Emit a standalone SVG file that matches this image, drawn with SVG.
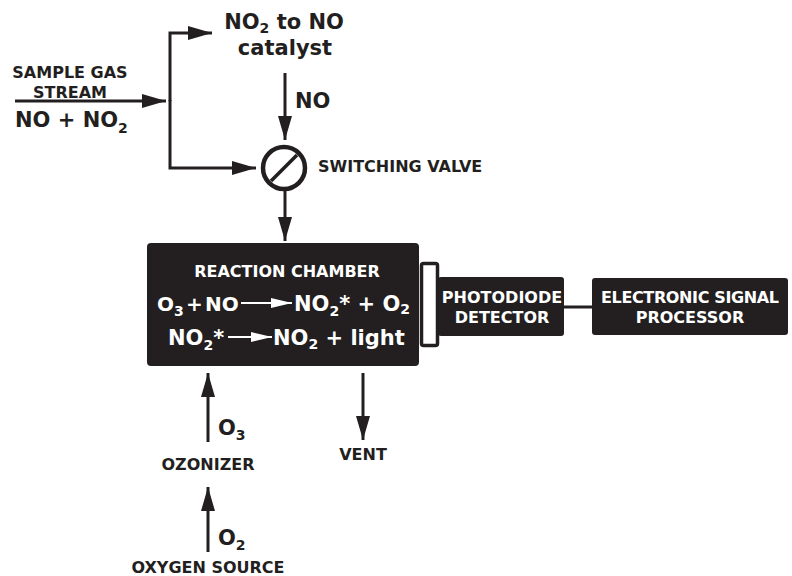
<svg xmlns="http://www.w3.org/2000/svg" width="792" height="576" viewBox="0 0 792 576">
<style>
text{font-family:"DejaVu Sans","Liberation Sans",sans-serif;font-weight:bold;fill:#231f20}
.sm{font-size:16px}
.lg{font-size:21px}
.w{fill:#fff}
.ln{stroke:#231f20;stroke-width:3;fill:none}
.wl{stroke:#fff;stroke-width:2.2;fill:none}
.box{fill:#231f20}
</style>
<defs>
<marker id="ah" markerUnits="userSpaceOnUse" markerWidth="26" markerHeight="16" refX="24" refY="7" orient="auto" viewBox="0 0 26 16">
<path d="M0,0 L24,7 L0,14 Z" fill="#231f20"/>
</marker>
<marker id="wh" markerUnits="userSpaceOnUse" markerWidth="24" markerHeight="12" refX="21" refY="5" orient="auto" viewBox="0 0 24 12">
<path d="M0,0 L21,5 L0,10 Z" fill="#fff"/>
</marker>
</defs>
<rect width="792" height="576" fill="#fff"/>
<g id="connectors">
<line class="ln" x1="15" y1="101" x2="166" y2="101" marker-end="url(#ah)"/>
<polyline class="ln" points="170,101 170,33 212,33" marker-end="url(#ah)"/>
<polyline class="ln" points="170,100 170,168 256,168" marker-end="url(#ah)"/>
<line class="ln" x1="285" y1="73" x2="285" y2="140" marker-end="url(#ah)"/>
<line class="ln" x1="285" y1="191" x2="285" y2="241" marker-end="url(#ah)"/>
<line class="ln" x1="208" y1="442" x2="208" y2="373" marker-end="url(#ah)"/>
<line class="ln" x1="208" y1="552" x2="208" y2="487" marker-end="url(#ah)"/>
<line class="ln" x1="363" y1="373" x2="363" y2="440" marker-end="url(#ah)"/>
<line class="ln" x1="564" y1="307" x2="592" y2="307"/>
</g>
<g id="sample">
<text class="sm" x="70" y="78" text-anchor="middle">SAMPLE GAS</text>
<text class="sm" x="70" y="98" text-anchor="middle">STREAM</text>
<text class="lg" x="15" y="127">NO + NO<tspan font-size="14" dy="6">2</tspan></text>
</g>
<g id="catalyst">
<text class="lg" x="284" y="29" text-anchor="middle">NO<tspan font-size="14" dy="4">2</tspan><tspan dy="-4"> to NO</tspan></text>
<text class="lg" x="285" y="55" text-anchor="middle">catalyst</text>
</g>
<text class="lg" x="295" y="108">NO</text>
<g id="valve">
<circle cx="284" cy="168" r="21" fill="#fff" stroke="#231f20" stroke-width="4.5"/>
<line x1="271" y1="181" x2="297" y2="155" stroke="#231f20" stroke-width="3.5"/>
<text class="sm" x="318" y="172">SWITCHING VALVE</text>
</g>
<g id="chamber">
<rect class="box" x="147" y="243" width="272" height="123" rx="4"/>
<text class="sm w" x="287" y="277" text-anchor="middle">REACTION CHAMBER</text>
<text class="w" font-size="20" x="157" y="311">O<tspan font-size="14" dy="5">3</tspan><tspan dy="-5" x="186">+</tspan><tspan x="205">NO</tspan></text>
<line class="wl" x1="241" y1="303" x2="292" y2="303" marker-end="url(#wh)"/>
<text class="lg w" x="294" y="311">NO<tspan font-size="14" dy="5">2</tspan><tspan dy="-5">* + O</tspan><tspan font-size="14" dy="3">2</tspan></text>
<text class="lg w" x="168" y="345">NO<tspan font-size="14" dy="5">2</tspan><tspan dy="-5">*</tspan></text>
<line class="wl" x1="228" y1="337" x2="272" y2="337" marker-end="url(#wh)"/>
<text class="lg w" x="273" y="345">NO<tspan font-size="14" dy="4">2</tspan><tspan dy="-4"> + light</tspan></text>
</g>
<g id="bracket">
<rect x="421.5" y="263.5" width="16" height="82" rx="2" fill="#fff" stroke="#231f20" stroke-width="3.5"/>
</g>
<g id="photodiode">
<rect class="box" x="438" y="277" width="126" height="59" rx="3"/>
<text class="sm w" x="502" y="303" text-anchor="middle">PHOTODIODE</text>
<text class="sm w" x="502" y="323" text-anchor="middle">DETECTOR</text>
</g>
<g id="processor">
<rect class="box" x="592" y="278" width="196" height="57" rx="3"/>
<text class="sm w" x="690" y="303" text-anchor="middle" textLength="178" lengthAdjust="spacing">ELECTRONIC SIGNAL</text>
<text class="sm w" x="690" y="323" text-anchor="middle">PROCESSOR</text>
</g>
<text class="lg" x="218" y="435">O<tspan font-size="14" dy="5">3</tspan></text>
<g id="ozonizer"><text class="sm" x="208" y="470" text-anchor="middle">OZONIZER</text></g>
<text class="lg" x="218" y="545">O<tspan font-size="14" dy="5">2</tspan></text>
<g id="oxygen"><text class="sm" x="208" y="573" text-anchor="middle">OXYGEN SOURCE</text></g>
<g id="vent"><text class="sm" x="363" y="460" text-anchor="middle">VENT</text></g>
</svg>
